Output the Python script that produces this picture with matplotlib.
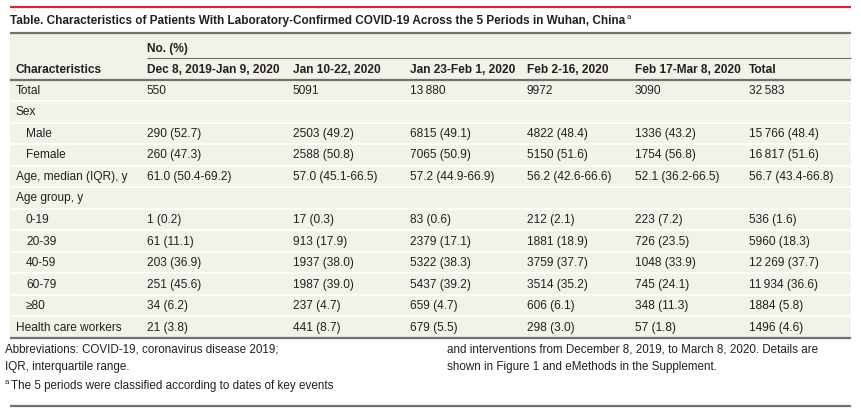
import matplotlib.pyplot as plt
from matplotlib.patches import Rectangle

# ---- data ----
periods = ["Dec 8, 2019-Jan 9, 2020", "Jan 10-22, 2020", "Jan 23-Feb 1, 2020",
           "Feb 2-16, 2020", "Feb 17-Mar 8, 2020", "Total"]
row_labels = ["Total", "Sex", "Male", "Female", "Age, median (IQR), y", "Age group, y",
              "0-19", "20-39", "40-59", "60-79", "\u226580", "Health care workers"]
indent = [0, 0, 1, 1, 0, 0, 1, 1, 1, 1, 1, 0]

total_n = [550, 5091, 13880, 9972, 3090, 32583]
male_n = [290, 2503, 6815, 4822, 1336, 15766]
male_pct = [52.7, 49.2, 49.1, 48.4, 43.2, 48.4]
female_n = [260, 2588, 7065, 5150, 1754, 16817]
female_pct = [47.3, 50.8, 50.9, 51.6, 56.8, 51.6]
age_median = [61.0, 57.0, 57.2, 56.2, 52.1, 56.7]
age_q1 = [50.4, 45.1, 44.9, 42.6, 36.2, 43.4]
age_q3 = [69.2, 66.5, 66.9, 66.6, 66.5, 66.8]
age_0_19 = [(1, 0.2), (17, 0.3), (83, 0.6), (212, 2.1), (223, 7.2), (536, 1.6)]
age_20_39 = [(61, 11.1), (913, 17.9), (2379, 17.1), (1881, 18.9), (726, 23.5), (5960, 18.3)]
age_40_59 = [(203, 36.9), (1937, 38.0), (5322, 38.3), (3759, 37.7), (1048, 33.9), (12269, 37.7)]
age_60_79 = [(251, 45.6), (1987, 39.0), (5437, 39.2), (3514, 35.2), (745, 24.1), (11934, 36.6)]
age_80 = [(34, 6.2), (237, 4.7), (659, 4.7), (606, 6.1), (348, 11.3), (1884, 5.8)]
hcw = [(21, 3.8), (441, 8.7), (679, 5.5), (298, 3.0), (57, 1.8), (1496, 4.6)]

title = ("Table. Characteristics of Patients With Laboratory-Confirmed COVID-19 "
         "Across the 5 Periods in Wuhan, China")
foot_left = ["Abbreviations: COVID-19, coronavirus disease 2019;",
             "IQR, interquartile range."]
foot_a = "The 5 periods were classified according to dates of key events"
foot_right = ["and interventions from December 8, 2019, to March 8, 2020. Details are",
              "shown in Figure 1 and eMethods in the Supplement."]


def fmt_n(n):
    if n >= 10000:
        s = f"{n:,}".replace(",", "\u2009")
    else:
        s = str(n)
    return s


def cell(pair):
    return f"{fmt_n(pair[0])} ({pair[1]:.1f})"


rows = [
    [fmt_n(n) for n in total_n],
    [""] * 6,
    [cell(p) for p in zip(male_n, male_pct)],
    [cell(p) for p in zip(female_n, female_pct)],
    [f"{m:.1f} ({a:.1f}-{b:.1f})" for m, a, b in zip(age_median, age_q1, age_q3)],
    [""] * 6,
    [cell(p) for p in age_0_19],
    [cell(p) for p in age_20_39],
    [cell(p) for p in age_40_59],
    [cell(p) for p in age_60_79],
    [cell(p) for p in age_80],
    [cell(p) for p in hcw],
]

# ---- layout (pixel coords) ----
W, H = 862, 412
left, right = 10, 851
col_x = [147, 293, 410, 527, 635, 749]
body_top, body_bot = 79.5, 338
bg = "#F3F2E9"
rule = "#707070"
txt = "#231F20"
font = ["Liberation Sans", "DejaVu Sans"]
fs = 8.6

fig = plt.figure(figsize=(W / 100, H / 100), dpi=100)
ax = fig.add_axes([0, 0, 1, 1])
ax.set_xlim(0, W)
ax.set_ylim(H, 0)
ax.axis("off")

# background of the table
ax.add_patch(Rectangle((left, 33), right - left, body_bot - 33, color=bg, lw=0, zorder=0))

# rules
ax.plot([left, right], [6.5, 6.5], color="#D7282F", lw=1.6, solid_capstyle="butt")
ax.plot([left, right], [33, 33], color=rule, lw=1.6, solid_capstyle="butt")
ax.plot([col_x[0], right], [58.3, 58.3], color=rule, lw=0.8, solid_capstyle="butt")
ax.plot([left, right], [body_top, body_top], color=rule, lw=1.6, solid_capstyle="butt", zorder=3)
ax.plot([left, right], [body_bot, body_bot], color=rule, lw=1.6, solid_capstyle="butt", zorder=3)
ax.plot([left, right], [405.5, 405.5], color=rule, lw=1.6, solid_capstyle="butt")

# title
t = ax.text(left, 21, title, fontsize=8.45, fontweight="bold", family=font,
            color=txt, va="center", ha="left")
fig.canvas.draw()
bb = t.get_window_extent()
ax.text(bb.x1 / fig.dpi * 100 + 1, 17.5, "a", fontsize=5.5, family=font, color=txt,
        va="center", ha="left")

# header
ax.text(col_x[0], 49, "No. (%)", fontsize=fs, fontweight="bold", family=font,
        color=txt, va="center")
ax.text(16, 70, "Characteristics", fontsize=fs, fontweight="bold", family=font,
        color=txt, va="center")
for x, p in zip(col_x, periods):
    ax.text(x, 70, p, fontsize=fs, fontweight="bold", family=font, color=txt, va="center")

# body rows
pitch = (body_bot - body_top) / len(row_labels)
for i, (lab, ind, vals) in enumerate(zip(row_labels, indent, rows)):
    y0 = body_top + i * pitch
    yc = y0 + pitch / 2 + 0.5
    if i > 0:
        ax.plot([left, right], [y0, y0], color="white", lw=1.2, zorder=1)
    ax.text(16 + 10 * ind, yc, lab, fontsize=fs, family=font, color=txt, va="center")
    for x, v in zip(col_x, vals):
        ax.text(x, yc, v, fontsize=fs, family=font, color=txt, va="center")

# footnotes
ffs = 8.35
ax.text(5, 350, foot_left[0], fontsize=ffs, family=font, color=txt, va="center")
ax.text(5, 367, foot_left[1], fontsize=ffs, family=font, color=txt, va="center")
ax.text(5, 383, "a", fontsize=5.5, family=font, color=txt, va="center")
ax.text(11, 386.5, foot_a, fontsize=ffs, family=font, color=txt, va="center")
ax.text(447, 350, foot_right[0], fontsize=ffs, family=font, color=txt, va="center")
ax.text(447, 367, foot_right[1], fontsize=ffs, family=font, color=txt, va="center")

fig.savefig("out.png", dpi=100, facecolor="white")
